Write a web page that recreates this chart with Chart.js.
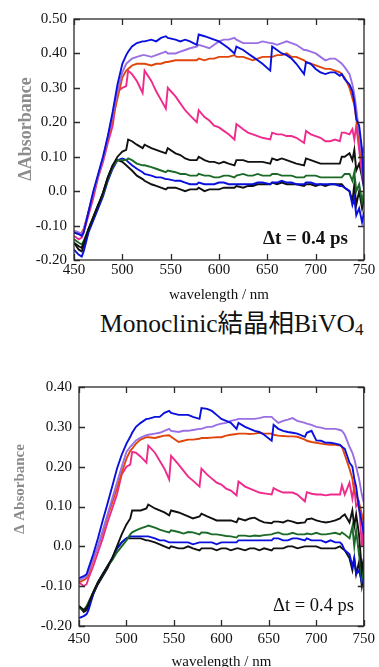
<!DOCTYPE html>
<html>
<head>
<meta charset="utf-8">
<script src="https://cdn.jsdelivr.net/npm/chart.js@4/dist/chart.umd.min.js"></script>
<style>
html,body{margin:0;padding:0;background:#fff;overflow:hidden;width:379px;height:667px;}
#c1{position:absolute;left:0;top:0;}
#c2{position:absolute;left:0;top:367px;}
#mid{position:absolute;left:100px;top:311px;font-family:"Liberation Serif","Noto Sans CJK JP",serif;font-size:25.5px;line-height:25px;white-space:nowrap;color:#111;}
#mid sub{font-size:17px;vertical-align:-3px;line-height:0;}
</style>
</head>
<body>
<canvas id="c1" width="379" height="306" style="width:379px;height:306px"></canvas>
<div id="mid">Monoclinic結晶相BiVO<sub>4</sub></div>
<canvas id="c2" width="379" height="310" style="width:379px;height:310px"></canvas>
<script>
// ---- shared wavelength grid (nm) ----
const wavelengths = [450,455,458,460,465, 470,475,480,485,490, 495,500,504,506,510, 515,521,523,530,535,
  540,545,547,555,560, 565,570,577,579,585, 590,595,600,605,610, 616,618,625,630,635,
  640,645,653,655,660, 665,670,675,680,688, 690,695,700,705,710, 715,720,725,727,730,
  735,738,740,742,745, 748,750];

// ---- top panel series (ΔAbsorbance) ----
const topBlueA = [-0.12,-0.125,-0.13,-0.12,-0.06, 0.0,0.05,0.10,0.16,0.23, 0.31,0.37,0.395,0.405,0.42, 0.43,0.435,0.435,0.44,0.435,
  0.445,0.45,0.445,0.44,0.435, 0.44,0.435,0.425,0.455,0.45, 0.445,0.44,0.435,0.425,0.415, 0.40,0.42,0.41,0.40,0.39,
  0.38,0.37,0.35,0.42,0.41, 0.40,0.395,0.385,0.37,0.34, 0.375,0.37,0.355,0.345,0.34, 0.345,0.345,0.335,0.34,0.325,
  0.31,0.29,0.26,0.21,0.19, 0.12,0.0];
const topPurple = [-0.115,-0.12,-0.125,-0.115,-0.06, -0.005,0.045,0.095,0.155,0.22, 0.29,0.345,0.37,0.375,0.385, 0.39,0.395,0.395,0.39,0.395,
  0.40,0.405,0.40,0.40,0.405, 0.41,0.415,0.42,0.425,0.42, 0.415,0.425,0.435,0.44,0.44, 0.445,0.44,0.43,0.43,0.43,
  0.43,0.435,0.43,0.43,0.425, 0.43,0.435,0.43,0.425,0.41, 0.41,0.405,0.40,0.39,0.38, 0.385,0.385,0.375,0.37,0.36,
  0.34,0.31,0.28,0.24,0.17, 0.10,0.13];
const topOrange = [-0.12,-0.125,-0.12,-0.11,-0.06, -0.01,0.045,0.095,0.15,0.21, 0.27,0.33,0.35,0.355,0.365, 0.37,0.37,0.37,0.365,0.37,
  0.37,0.375,0.375,0.38,0.38, 0.38,0.38,0.38,0.385,0.38, 0.385,0.385,0.39,0.39,0.39, 0.395,0.39,0.39,0.385,0.38,
  0.385,0.39,0.39,0.39,0.395, 0.395,0.40,0.39,0.39,0.38, 0.375,0.37,0.365,0.36,0.355, 0.355,0.35,0.345,0.34,0.33,
  0.30,0.27,0.25,0.21,0.15, 0.08,0.02];
const topPink = [-0.13,-0.14,-0.135,-0.12,-0.07, -0.02,0.04,0.085,0.14,0.19, 0.29,0.30,0.305,0.35,0.34, 0.32,0.285,0.35,0.32,0.29,
  0.265,0.24,0.30,0.275,0.255, 0.235,0.22,0.20,0.235,0.215, 0.205,0.19,0.185,0.175,0.165, 0.15,0.195,0.18,0.17,0.165,
  0.16,0.155,0.15,0.17,0.165, 0.165,0.16,0.16,0.155,0.14, 0.175,0.165,0.16,0.155,0.145, 0.145,0.15,0.145,0.17,0.17,
  0.165,0.18,0.15,0.19,0.12, 0.05,0.10];
const topBlackA = [-0.15,-0.16,-0.165,-0.15,-0.11, -0.075,-0.04,-0.005,0.04,0.075, 0.10,0.115,0.12,0.15,0.145, 0.135,0.125,0.135,0.125,0.12,
  0.115,0.11,0.125,0.11,0.105, 0.095,0.09,0.09,0.10,0.09, 0.085,0.085,0.08,0.085,0.08, 0.075,0.09,0.09,0.085,0.085,
  0.085,0.085,0.08,0.095,0.09, 0.095,0.09,0.085,0.08,0.075, 0.095,0.09,0.085,0.08,0.08, 0.08,0.08,0.08,0.10,0.10,
  0.11,0.09,0.12,0.06,0.08, 0.04,0.01];
const topGreen = [-0.14,-0.15,-0.155,-0.145,-0.11, -0.075,-0.04,-0.01,0.035,0.07, 0.09,0.09,0.09,0.095,0.09, 0.08,0.075,0.075,0.07,0.065,
  0.06,0.055,0.06,0.055,0.05, 0.05,0.045,0.045,0.05,0.045, 0.045,0.04,0.04,0.045,0.045, 0.04,0.045,0.05,0.045,0.045,
  0.05,0.045,0.045,0.05,0.05, 0.045,0.045,0.045,0.04,0.04, 0.045,0.045,0.045,0.04,0.04, 0.04,0.04,0.04,0.04,0.05,
  0.05,0.03,0.055,0.0,0.02, -0.03,0.0];
const topBlueB = [-0.17,-0.185,-0.19,-0.175,-0.12, -0.085,-0.05,-0.015,0.03,0.065, 0.09,0.095,0.09,0.085,0.075, 0.065,0.055,0.05,0.045,0.04,
  0.04,0.035,0.035,0.03,0.03, 0.025,0.02,0.02,0.025,0.02, 0.02,0.02,0.025,0.025,0.02, 0.02,0.02,0.02,0.02,0.02,
  0.025,0.025,0.02,0.025,0.025, 0.03,0.025,0.025,0.02,0.02, 0.025,0.025,0.02,0.02,0.02, 0.02,0.02,0.015,0.015,0.01,
  0.0,-0.04,-0.02,-0.07,-0.05, -0.09,-0.06];
const topBlackB = [-0.15,-0.17,-0.175,-0.16,-0.11, -0.08,-0.045,-0.005,0.04,0.075, 0.09,0.085,0.075,0.07,0.06, 0.045,0.035,0.03,0.02,0.015,
  0.01,0.005,0.01,0.01,0.005, 0.0,0.005,0.005,0.01,0.0, 0.005,0.005,0.005,0.01,0.01, 0.01,0.015,0.01,0.015,0.015,
  0.02,0.02,0.02,0.025,0.02, 0.025,0.02,0.02,0.02,0.015, 0.02,0.02,0.015,0.02,0.015, 0.02,0.02,0.02,0.02,0.01,
  0.0,-0.03,0.02,-0.04,0.0, -0.05,-0.02];

// ---- bottom panel series (Δ Absorbance) ----
const botBlueA = [-0.08,-0.075,-0.07,-0.055,-0.02, 0.02,0.065,0.107,0.15,0.195, 0.23,0.258,0.275,0.285,0.30, 0.31,0.32,0.32,0.325,0.325,
  0.335,0.34,0.335,0.33,0.33, 0.33,0.325,0.32,0.347,0.345, 0.34,0.33,0.32,0.315,0.31, 0.295,0.31,0.30,0.295,0.29,
  0.287,0.28,0.265,0.305,0.295, 0.29,0.287,0.285,0.283,0.275, 0.285,0.29,0.266,0.265,0.26, 0.26,0.258,0.255,0.25,0.245,
  0.21,0.20,0.17,0.15,0.095, 0.06,0.03];
const botPurple = [-0.085,-0.08,-0.075,-0.065,-0.03, 0.0,0.04,0.08,0.12,0.16, 0.20,0.237,0.25,0.255,0.266, 0.273,0.279,0.28,0.283,0.285,
  0.29,0.295,0.29,0.287,0.29, 0.29,0.292,0.295,0.295,0.30, 0.30,0.305,0.308,0.31,0.315, 0.318,0.32,0.32,0.32,0.32,
  0.322,0.325,0.325,0.32,0.31, 0.315,0.318,0.322,0.315,0.31, 0.308,0.305,0.30,0.298,0.295, 0.295,0.295,0.292,0.29,0.28,
  0.25,0.235,0.22,0.20,0.17, 0.13,0.11];
const botOrange = [-0.09,-0.085,-0.08,-0.07,-0.035, 0.0,0.035,0.075,0.11,0.145, 0.185,0.22,0.24,0.245,0.258, 0.268,0.274,0.274,0.272,0.275,
  0.278,0.279,0.275,0.262,0.265, 0.268,0.268,0.27,0.272,0.272, 0.273,0.274,0.274,0.278,0.28, 0.282,0.283,0.283,0.282,0.283,
  0.285,0.283,0.283,0.28,0.278, 0.277,0.276,0.276,0.275,0.268, 0.265,0.262,0.26,0.258,0.256, 0.255,0.255,0.253,0.25,0.23,
  0.195,0.17,0.136,0.13,0.11, 0.08,0.06];
const botPink = [-0.09,-0.10,-0.095,-0.08,-0.05, -0.015,0.02,0.06,0.095,0.13, 0.18,0.20,0.205,0.237,0.235, 0.225,0.21,0.253,0.235,0.215,
  0.195,0.168,0.227,0.205,0.19, 0.175,0.165,0.15,0.195,0.18, 0.17,0.16,0.155,0.145,0.14, 0.128,0.163,0.15,0.145,0.14,
  0.135,0.133,0.13,0.146,0.14, 0.135,0.135,0.135,0.13,0.113, 0.136,0.132,0.13,0.13,0.128, 0.13,0.13,0.13,0.153,0.13,
  0.16,0.12,0.15,0.10,0.11, 0.0,0.05];
const botBlackA = [-0.15,-0.16,-0.155,-0.145,-0.115, -0.09,-0.07,-0.05,-0.03,0.0, 0.03,0.055,0.07,0.09,0.09, 0.09,0.095,0.105,0.095,0.09,
  0.085,0.078,0.09,0.085,0.08, 0.075,0.07,0.075,0.082,0.075, 0.07,0.065,0.065,0.065,0.065, 0.06,0.07,0.065,0.07,0.072,
  0.065,0.06,0.058,0.062,0.062, 0.06,0.065,0.062,0.058,0.06, 0.068,0.07,0.065,0.062,0.06, 0.062,0.065,0.07,0.075,0.08,
  0.06,0.09,0.05,0.08,0.03, -0.06,-0.03];
const botGreen = [-0.155,-0.16,-0.15,-0.14,-0.115, -0.09,-0.07,-0.05,-0.035,-0.015, 0.0,0.015,0.03,0.035,0.04, 0.045,0.05,0.052,0.047,0.042,
  0.038,0.035,0.04,0.036,0.032, 0.036,0.035,0.03,0.035,0.034, 0.03,0.03,0.028,0.026,0.025, 0.022,0.027,0.027,0.025,0.027,
  0.026,0.028,0.03,0.032,0.035, 0.03,0.03,0.034,0.03,0.03, 0.032,0.03,0.034,0.03,0.03, 0.032,0.034,0.03,0.035,0.03,
  0.02,0.05,0.0,0.04,-0.02, -0.08,-0.05];
const botBlueB = [-0.18,-0.175,-0.17,-0.16,-0.12, -0.09,-0.07,-0.05,-0.03,-0.005, 0.01,0.02,0.025,0.025,0.025, 0.025,0.025,0.025,0.02,0.015,
  0.015,0.01,0.01,0.01,0.01, 0.01,0.005,0.01,0.01,0.01, 0.01,0.005,0.01,0.01,0.01, 0.01,0.015,0.015,0.015,0.015,
  0.015,0.015,0.015,0.02,0.02, 0.015,0.015,0.02,0.02,0.015, 0.02,0.015,0.015,0.015,0.01, 0.015,0.01,0.01,0.005,-0.01,
  -0.02,-0.05,-0.03,-0.07,-0.06, -0.09,-0.08];
const botBlackB = [-0.15,-0.165,-0.16,-0.15,-0.12, -0.095,-0.075,-0.055,-0.03,-0.005, 0.01,0.02,0.02,0.02,0.02, 0.02,0.015,0.015,0.01,0.005,
  0.0,-0.005,0.0,-0.005,-0.005, 0.0,-0.005,-0.01,-0.005,-0.005, -0.005,-0.01,-0.005,-0.005,-0.01, -0.005,-0.005,-0.01,-0.005,-0.005,
  -0.01,-0.005,-0.01,-0.005,-0.005, -0.005,0.0,0.0,-0.005,0.0, 0.0,0.0,0.0,-0.005,-0.005, -0.005,-0.005,0.0,-0.005,-0.01,
  -0.03,-0.06,-0.03,-0.07,-0.04, -0.10,-0.07];

// ---- ticks ----
const xTicks = [450,500,550,600,650,700,750];
const xTickLabels = ['450','500','550','600','650','700','750'];
const yTicksTop = [-0.2,-0.1,0,0.1,0.2,0.3,0.4,0.5];
const yTickLabelsTop = ['-0.20','-0.10','0.0','0.10','0.20','0.30','0.40','0.50'];
const yTicksBottom = [-0.2,-0.1,0,0.1,0.2,0.3,0.4];
const yTickLabelsBottom = ['-0.20','-0.10','0.0','0.10','0.20','0.30','0.40'];

// ---- styles ----
const C = {blue:'#0a10dc', purple:'#9b6fe4', orange:'#e0460c', pink:'#f02a8c', black:'#111111', green:'#1b6a28'};
const FONT = '"Liberation Serif", "Times New Roman", serif';
Chart.defaults.font.family = FONT;
Chart.defaults.color = '#111';

const frameDecor = {
  id: 'frameDecor',
  afterDraw(chart, args, o) {
    const {ctx, chartArea: {left, right, top, bottom}, scales: {x, y}} = chart;
    ctx.save();
    ctx.strokeStyle = '#2a2a2a';
    ctx.lineWidth = 1.3;
    ctx.strokeRect(left, top, right - left, bottom - top);
    ctx.beginPath();
    x.ticks.forEach(t => {
      const px = Math.round(x.getPixelForValue(t.value)) + 0.5;
      ctx.moveTo(px, bottom); ctx.lineTo(px, bottom - 6);
      ctx.moveTo(px, top); ctx.lineTo(px, top + 6);
    });
    y.ticks.forEach(t => {
      const py = Math.round(y.getPixelForValue(t.value)) + 0.5;
      ctx.moveTo(left, py); ctx.lineTo(left + 6, py);
      ctx.moveTo(right, py); ctx.lineTo(right - 6, py);
    });
    ctx.stroke();
    // annotation
    ctx.fillStyle = '#111';
    ctx.font = (o.annBold ? 'bold ' : '') + o.annSize + 'px ' + FONT;
    ctx.textAlign = 'right';
    ctx.textBaseline = 'alphabetic';
    ctx.fillText(o.ann, o.annX, o.annY);
    // y title (grey, soft)
    ctx.translate(o.ytX, o.ytY);
    ctx.rotate(-Math.PI / 2);
    ctx.filter = 'blur(0.6px)';
    ctx.fillStyle = '#8c8c8c';
    ctx.font = 'bold ' + o.ytSize + 'px ' + FONT;
    ctx.textAlign = 'center';
    ctx.textBaseline = 'middle';
    ctx.fillText(o.yt, 0, 0);
    ctx.restore();
  }
};

function makeChart(id, series, yTicks, yLabels, cfg) {
  const ds = series.map(s => ({
    data: wavelengths.map((w, i) => ({x: w, y: s.values[i]})),
    borderColor: s.color,
    borderWidth: 1.9,
    pointRadius: 0,
    tension: 0,
    fill: false
  }));
  return new Chart(document.getElementById(id), {
    type: 'line',
    data: {datasets: ds},
    plugins: [frameDecor],
    options: {
      responsive: false,
      animation: false,
      layout: {autoPadding: false, padding: cfg.padding},
      plugins: {legend: {display: false}, tooltip: {enabled: false}, frameDecor: cfg.decor},
      scales: {
        x: {
          type: 'linear', min: 450, max: 750,
          afterBuildTicks: s => { s.ticks = xTicks.map(v => ({value: v})); },
          afterFit: s => { s.height = cfg.xH; },
          grid: {display: false, drawTicks: false},
          border: {display: false},
          ticks: {font: {size: 15}, padding: cfg.xPad, maxRotation: 0, autoSkip: false,
                  callback: (v, i) => xTickLabels[i]},
          title: {display: true, text: 'wavelength / nm', font: {size: 15}, padding: 0, color: '#111'}
        },
        y: {
          type: 'linear', min: yTicks[0], max: yTicks[yTicks.length - 1],
          afterBuildTicks: s => { s.ticks = yTicks.map(v => ({value: v})); },
          afterFit: s => { s.width = cfg.yW; },
          grid: {display: false, drawTicks: false},
          border: {display: false},
          ticks: {font: {size: 15}, padding: 7, autoSkip: false,
                  callback: (v, i) => yLabels[i]}
        }
      }
    }
  });
}

makeChart('c1', [
  {values: topBlueA, color: C.blue},
  {values: topPurple, color: C.purple},
  {values: topOrange, color: C.orange},
  {values: topPink, color: C.pink},
  {values: topBlackA, color: C.black},
  {values: topGreen, color: C.green},
  {values: topBlueB, color: C.blue},
  {values: topBlackB, color: C.black}
], yTicksTop, yTickLabelsTop, {
  padding: {left: 0, right: 15, top: 19, bottom: 2},
  xH: 44, yW: 74, xPad: 1,
  decor: {ann: 'Δt = 0.4 ps', annBold: true, annSize: 19, annX: 348, annY: 244,
          yt: 'ΔAbsorbance', ytSize: 18, ytX: 26, ytY: 129}
});

makeChart('c2', [
  {values: botBlueA, color: C.blue},
  {values: botPurple, color: C.purple},
  {values: botOrange, color: C.orange},
  {values: botPink, color: C.pink},
  {values: botBlackA, color: C.black},
  {values: botGreen, color: C.green},
  {values: botBlueB, color: C.blue},
  {values: botBlackB, color: C.black}
], yTicksBottom, yTickLabelsBottom, {
  padding: {left: 0, right: 13, top: 20, bottom: 6},
  xH: 45, yW: 79, xPad: 4,
  decor: {ann: 'Δt = 0.4 ps', annBold: false, annSize: 18.5, annX: 354, annY: 244,
          yt: 'Δ Absorbance', ytSize: 15, ytX: 20, ytY: 122}
});
</script>
</body>
</html>
